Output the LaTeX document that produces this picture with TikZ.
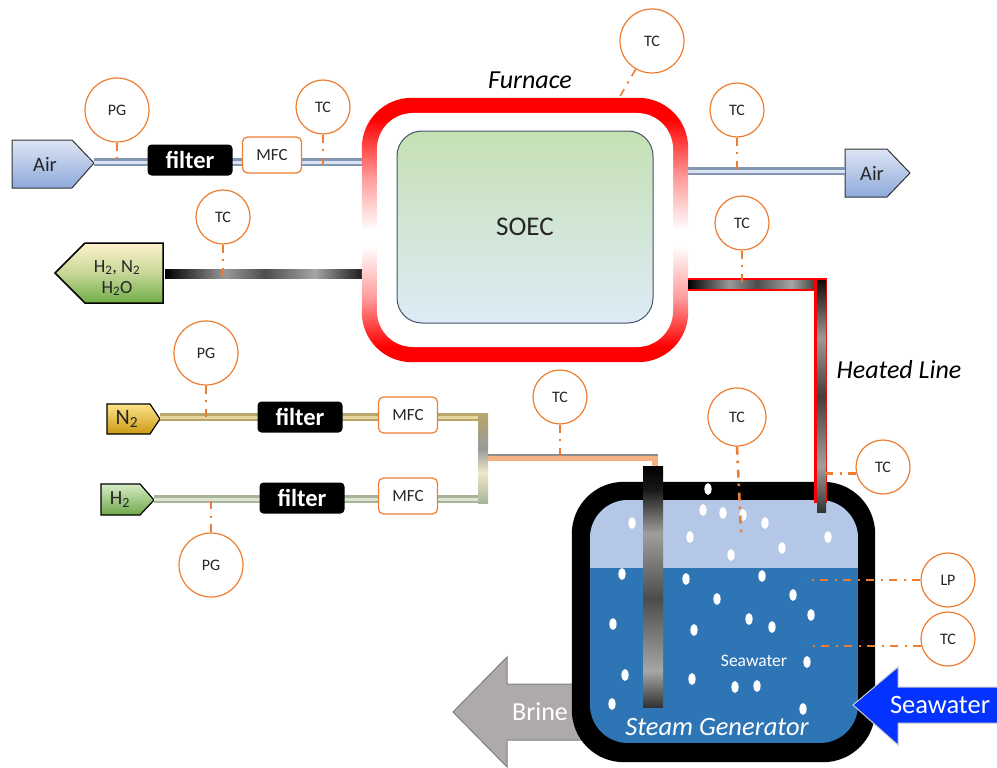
\documentclass[tikz,border=0pt]{standalone}
\usepackage{fontspec}
\setmainfont{Carlito}
\usetikzlibrary{calc}

\definecolor{orangeC}{HTML}{ED7D31}
\definecolor{heat}{HTML}{FF0000}
\definecolor{heatpink}{HTML}{FF9A9A}
\definecolor{airEdge}{HTML}{8497B0}
\definecolor{airCore}{HTML}{DAE3F3}
\definecolor{airTop}{HTML}{DCE5F4}
\definecolor{airBot}{HTML}{8EA9DB}
\definecolor{soecTop}{HTML}{C5E0B4}
\definecolor{soecBot}{HTML}{DEEBF7}
\definecolor{slate}{HTML}{44546A}
\definecolor{prodTop}{HTML}{FFF2CC}
\definecolor{prodBot}{HTML}{70AD47}
\definecolor{nTop}{HTML}{FFE38A}
\definecolor{nBot}{HTML}{C99A12}
\definecolor{hTop}{HTML}{D5EBC5}
\definecolor{hBot}{HTML}{6FA84A}
\definecolor{n2Edge}{HTML}{B8A66A}
\definecolor{n2Core}{HTML}{E6D7A0}
\definecolor{h2Edge}{HTML}{A9B59A}
\definecolor{h2Core}{HTML}{DDE5D2}
\definecolor{feedCore}{HTML}{F4B183}
\definecolor{steamTop}{HTML}{B4C7E7}
\definecolor{water}{HTML}{2E75B6}
\definecolor{inflow}{HTML}{0433FF}
\definecolor{brine}{HTML}{AEAAAA}
\definecolor{brineEdge}{HTML}{7F7F7F}
\definecolor{labelText}{HTML}{262626}

% furnace ring: red at top and bottom, fading to white just below mid-height
\pgfdeclareverticalshading{furnaceV}{100bp}{color(0bp)=(heat); color(25bp)=(heat); color(28bp)=(heat);
  color(37bp)=(heatpink); color(47bp)=(white); color(50bp)=(white); color(60bp)=(heatpink);
  color(71bp)=(heat); color(75bp)=(heat); color(100bp)=(heat)}
% dark metal pipe, varying along its length
\pgfdeclarehorizontalshading{pipeH}{100bp}{color(0bp)=(black); color(25bp)=(black); color(40bp)=(black!40);
  color(50bp)=(black!70); color(62.5bp)=(black!35); color(70bp)=(black!70); color(75bp)=(black!90); color(100bp)=(black!90)}
\pgfdeclareverticalshading{spargerV}{100bp}{color(0bp)=(black!80); color(25bp)=(black!80); color(32.5bp)=(black!35);
  color(47.5bp)=(black!70); color(61bp)=(black!38); color(70bp)=(black!90); color(75bp)=(black); color(100bp)=(black)}
\pgfdeclareverticalshading{hotV}{100bp}{color(0bp)=(black!80); color(25bp)=(black!80); color(35bp)=(black!38);
  color(50bp)=(black!75); color(62.5bp)=(black!40); color(75bp)=(black!95); color(100bp)=(black!95)}
\pgfdeclareverticalshading{jointV}{100bp}{color(0bp)=(h2Edge); color(25bp)=(h2Edge); color(42bp)=(n2Core!60!white);
  color(55bp)=(black!40); color(75bp)=(n2Edge); color(100bp)=(n2Edge)}

\begin{document}
\begin{tikzpicture}[x=1pt,y=-1pt,
  gauge/.style={circle, draw=orangeC, line width=1.2pt, fill=white, minimum size=54pt, inner sep=0pt,
    text=labelText, font=\fontsize{16}{18}\selectfont},
  biggauge/.style={gauge, minimum size=64pt},
  filterbox/.style={fill=black, rounded corners=4pt, text=white, inner sep=0pt,
    minimum width=85pt, minimum height=31pt, font=\bfseries\fontsize{24.5}{26}\selectfont},
  mfcbox/.style={draw=orangeC, line width=1.2pt, fill=white, rounded corners=5pt, inner sep=0pt,
    minimum width=59pt, minimum height=36pt, text=labelText, font=\fontsize{17}{19}\selectfont},
  tap/.style={draw=orangeC, line width=2.6pt, dash pattern=on 8pt off 6pt on 2.5pt off 6.5pt},
  airpipe/.style={draw=airEdge, double=airCore, double distance=3pt, line width=2.5pt},
  n2pipe/.style={draw=n2Edge, double=n2Core, double distance=3pt, line width=2.5pt},
  h2pipe/.style={draw=h2Edge, double=h2Core, double distance=3pt, line width=2.5pt},
  portlabel/.style={text=labelText, font=\fontsize{20.5}{22}\selectfont},
  caption/.style={font=\itshape\fontsize{26}{28}\selectfont},
  whitebold/.style={text=white, font=\fontsize{26.5}{28}\selectfont},
  bubble/.style={fill=white},
]
\useasboundingbox (0,0) rectangle (997,768);

% ---------- equipment frames ----------
\node[minimum width=326pt, minimum height=264pt, inner sep=0pt] (furnace) at (525,230) {};
\node[minimum width=303pt, minimum height=280pt, inner sep=0pt] (sg) at (723.5,622) {};

% ---------- port shapes ----------
\shadedraw[top color=airTop, bottom color=airBot, draw=black!80, line width=1pt]
  (12,140) -- (72,140) -- (94,163) -- (72,188) -- (12,188) -- cycle;
\node[portlabel] (airIn) at (45,164) {Air};
\coordinate (airInTip) at (94,162);

\shadedraw[top color=airTop, bottom color=airBot, draw=black!80, line width=1pt]
  (845,149) -- (887,149) -- (910,173) -- (887,197) -- (845,197) -- cycle;
\node[portlabel] (airOut) at (872,173) {Air};
\coordinate (airOutBase) at (845,171);

\shadedraw[top color=prodTop, bottom color=prodBot, middle color=prodTop!60!prodBot, draw=black, line width=1.5pt]
  (163,243) -- (85,243) -- (55,273) -- (85,303) -- (163,303) -- cycle;
\node[portlabel, align=center, font=\fontsize{18.5}{21}\selectfont] (product) at (117,278)
  {H\textsubscript{2}, N\textsubscript{2}\\H\textsubscript{2}O};
\coordinate (productBase) at (165,274);

\shadedraw[top color=nTop, bottom color=nBot, draw=black, line width=1.2pt]
  (107,404) -- (150,404) -- (160,419) -- (150,434) -- (107,434) -- cycle;
\node[portlabel, font=\fontsize{22}{24}\selectfont] (n2) at (127,419) {N\textsubscript{2}};
\coordinate (n2Tip) at (160,417);

\shadedraw[top color=hTop, bottom color=hBot, draw=black, line width=1.2pt]
  (101,484) -- (140,484) -- (154,500) -- (140,515) -- (101,515) -- cycle;
\node[portlabel, font=\fontsize{20}{22}\selectfont] (h2) at (120,500) {H\textsubscript{2}};
\coordinate (h2Tip) at (154,499);

% ---------- pipes ----------
\draw[airpipe] (airInTip) -- (airInTip -| furnace.west);
\draw[airpipe] (airOutBase -| furnace.east) -- (airOutBase);
\shade[shading=pipeH] (productBase) ++(0,-4.5) rectangle ($(productBase -| furnace.west)+(3,4.5)$);

\coordinate (joinN2) at (487,417);
\coordinate (joinH2) at (487,499);
\draw[n2pipe] (n2Tip) -- (joinN2);
\draw[h2pipe] (h2Tip) -- (joinH2);
\shade[shading=jointV] (478,413) rectangle (488,503);
\coordinate (feedStart) at (488,458);
\coordinate (feedBend) at (655,458);
\coordinate (feedEnd) at (655,467);
\draw[line width=6pt, feedCore] (feedStart) -- (feedBend) -- (feedEnd);
\draw[line width=1.5pt, black!45] (488,455) -- (658,455);

% ---------- furnace and cell ----------
\shade[shading=furnaceV, rounded corners=50pt] (furnace.south west) rectangle (furnace.north east);
\fill[white, rounded corners=36pt] (377,113) rectangle (673,347);
\node[caption] (furnaceLbl) at (530,80) {Furnace};
\node[top color=soecTop, bottom color=soecBot, draw=slate, line width=1pt, rounded corners=25pt,
  minimum width=256pt, minimum height=192pt, inner sep=0pt, text=labelText,
  font=\fontsize{27}{29}\selectfont] (soec) at (525,227) {SOEC};

% ---------- heated line (horizontal run) ----------
\fill[heat] (688,278) rectangle (826,291);
\shade[shading=pipeH] (688,280) rectangle (826,288);

% ---------- brine outlet ----------
\filldraw[fill=brine, draw=brineEdge, line width=1pt]
  (453,712) -- (507,657) -- (507,684) -- (600,684) -- (600,740) -- (507,740) -- (507,767) -- cycle;
\node[whitebold, font=\fontsize{26}{28}\selectfont] (brineLbl) at (540,712) {Brine};

% ---------- steam generator ----------
\fill[black, rounded corners=52pt] (sg.south west) rectangle (sg.north east);
\begin{scope}
  \clip[rounded corners=38pt] (590,500) rectangle (858,743);
  \fill[water] (590,500) rectangle (858,743);
  \fill[steamTop] (590,500) rectangle (858,568);
\end{scope}
\foreach \bx/\by in {708/489,632/523,703/510,723/513,743/515,765/523,690/537,731/555,782/548,828/537,
  622/574,686/579,762/576,717/599,793/595,613/624,694/630,749/619,772/627,811/615,807/662,
  625/675,692/679,735/687,757/686,612/704,803/709}
  \fill[bubble] (\bx,\by) ellipse [x radius=3.6pt, y radius=6pt];
\node[text=white, font=\fontsize{17.5}{19}\selectfont] (seaLbl) at (754,661) {Seawater};
\node[text=white, font=\itshape\fontsize{26.5}{28}\selectfont] (sgLbl) at (717,727) {Steam Generator};

% sparger and heated-line drop into the vessel
\shade[shading=spargerV] (643,466) rectangle (663,707);
\fill[heat] (814,278) rectangle (827,503);
\shade[shading=hotV] (817,280) rectangle (826,512);

% ---------- seawater inlet ----------
\filldraw[fill=inflow, draw=white!80!black, line width=1pt]
  (853,705) -- (898,667) -- (898,687) -- (998,687) -- (998,723) -- (898,723) -- (898,745) -- cycle;
\node[whitebold] (seaIn) at (940,705) {Seawater};

\node[caption] (heatedLbl) at (899,370) {Heated Line};

% ---------- inline components ----------
\node[filterbox] (fAir) at (190,160) {filter};
\node[mfcbox] (mfcAir) at (272,155) {MFC};
\node[filterbox] (fN2) at (300,417) {filter};
\node[mfcbox] (mfcN2) at (408,415) {MFC};
\node[filterbox] (fH2) at (302,498) {filter};
\node[mfcbox] (mfcH2) at (408,496) {MFC};

% ---------- instruments ----------
\node[biggauge] (pgAir) at (117,110) {PG};
\node[gauge] (tcAir) at (323,107) {TC};
\node[biggauge] (tcFurn) at (652,41) {TC};
\node[gauge] (tcAirOut) at (737,110) {TC};
\node[gauge] (tcHot) at (742,223) {TC};
\node[gauge] (tcOut) at (223,217) {TC};
\node[biggauge] (pgN2) at (206,353) {PG};
\node[biggauge] (pgH2) at (211,565) {PG};
\node[gauge] (tcFeed) at (560,397) {TC};
\node[gauge, minimum size=58pt] (tcSteam) at (737,417) {TC};
\node[gauge] (tcLine) at (883,467) {TC};
\node[gauge] (lp) at (948,580) {LP};
\node[gauge] (tcWater) at (948,639) {TC};

% ---------- signal taps ----------
\coordinate (furnTop) at (619,98);
\draw[tap] (pgAir.south) -- ($(pgAir.south |- airInTip)+(0,3)$);
\draw[tap] (tcAir.south) -- ($(tcAir.south |- airInTip)+(0,3)$);
\draw[tap, line width=1.6pt] (tcFurn.240) -- (furnTop);
\draw[tap] (tcAirOut.south) -- ($(tcAirOut.south |- airOutBase)+(0,3)$);
\draw[tap] (tcHot.south) -- ++(0,31);
\draw[tap] (tcOut.south) -- ($(tcOut.south |- productBase)+(0,3)$);
\draw[tap] (pgN2.south) -- ($(pgN2.south |- n2Tip)+(0,2)$);
\draw[tap] (pgH2.north) -- ($(pgH2.north |- h2Tip)+(0,2)$);
\draw[tap] (tcFeed.south) -- ++(0,33);
\draw[tap] (tcSteam.south) -- ++(4,86);
\draw[tap] (tcLine.193) -- ++(-34,0);
\draw[tap] (lp.west) -- ++(-115,0);
\draw[tap] (tcWater.195) -- ++(-115,0);

\end{tikzpicture}
\end{document}
